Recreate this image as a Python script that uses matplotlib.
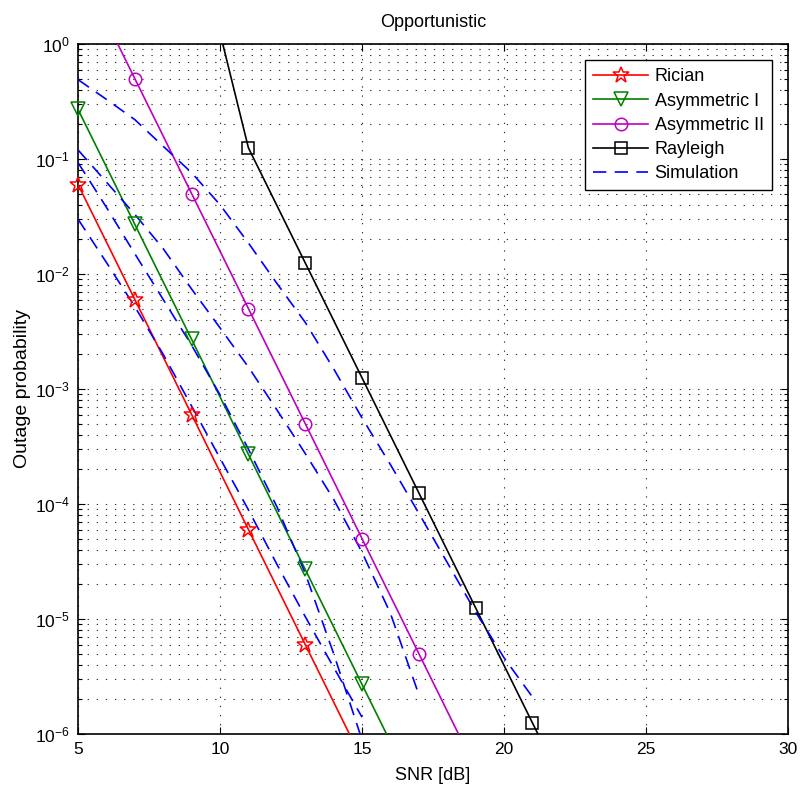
import numpy as np
import matplotlib
matplotlib.use('Agg')
import matplotlib.pyplot as plt
from matplotlib.lines import Line2D

plt.rcParams['font.family'] = ['Liberation Sans', 'DejaVu Sans']

# Analytische Kurven (Werte an ungeraden SNR-Punkten)
snr_rician = [5, 7, 9, 11, 13, 15, 17]
p_rician = [6e-2, 6e-3, 6e-4, 6e-5, 6e-6, 6e-7, 6e-8]

snr_asym1 = [5, 7, 9, 11, 13, 15, 17, 19]
p_asym1 = [2.7e-1, 2.7e-2, 2.7e-3, 2.7e-4, 2.7e-5, 2.7e-6, 2.7e-7, 2.7e-8]

snr_asym2 = [5, 7, 9, 11, 13, 15, 17, 19, 21]
p_asym2 = [5.0, 5e-1, 5e-2, 5e-3, 5e-4, 5e-5, 5e-6, 5e-7, 5e-8]

snr_rayl = [9, 11, 13, 15, 17, 19, 21, 23]
p_rayl = [12.5, 1.25e-1, 1.25e-2, 1.25e-3, 1.25e-4, 1.25e-5, 1.25e-6, 1.25e-7]

# Simulation (1 dB Schritte)
sim_x_rician = list(range(5, 16))
sim_rician = [0.030, 0.0126, 0.0052, 0.0020, 7.1e-4, 2.5e-4, 8.9e-5, 3.0e-5,
              1.05e-5, 3.8e-6, 1.4e-6]

sim_x_asym1 = list(range(5, 16))
sim_asym1 = [0.093, 0.038, 0.015, 0.006, 0.0024, 8.9e-4, 3.0e-4, 9.5e-5,
             2.5e-5, 5.0e-6, 8.9e-7]

sim_x_asym2 = list(range(5, 18))
sim_asym2 = [0.12, 0.063, 0.033, 0.0166, 0.0074, 0.0034, 1.55e-3, 6.6e-4,
             2.75e-4, 1.1e-4, 3.8e-5, 1.12e-5, 2.2e-6]

sim_x_rayl = list(range(5, 22))
sim_rayl = [0.49, 0.33, 0.22, 0.129, 0.076, 0.040, 0.0186, 0.0083, 0.0038,
            0.0015, 5.6e-4, 2.2e-4, 8.3e-5, 3.1e-5, 1.15e-5, 4.6e-6, 2.1e-6]

ymin, ymax = 1e-6, 1.0

fig = plt.figure(figsize=(8.01, 7.90), dpi=100)
ax = fig.add_axes([0.0974, 0.0709, 0.8864, 0.8734])
ax.set_yscale('log')

kurven = [
    (snr_rician, p_rician, 'r', '*', 12, 'Rician'),
    (snr_asym1, p_asym1, 'g', 'v', 10, 'Asymmetric I'),
    (snr_asym2, p_asym2, 'm', 'o', 9, 'Asymmetric II'),
    (snr_rayl, p_rayl, 'k', 's', 8, 'Rayleigh'),
]
col = {'g': '#008000', 'm': '#bf00bf', 'r': '#ff0000', 'k': '#000000'}

handles = []
for x, y, c, m, ms, name in kurven:
    x = np.array(x)
    y = np.array(y)
    ax.plot(x, y, color=col[c], lw=1.2, zorder=3)
    sel = (y >= ymin) & (y <= ymax)
    ax.plot(x[sel], y[sel], linestyle='none', marker=m, ms=ms,
            markerfacecolor='none', markeredgecolor=col[c], mew=1.1,
            clip_on=False, zorder=4)
    handles.append(Line2D([], [], color=col[c], lw=1.2, marker=m, ms=ms,
                          markerfacecolor='none', mew=1.1, label=name))

dash = (0, (8, 5))
for x, y in [(sim_x_rician, sim_rician), (sim_x_asym1, sim_asym1),
             (sim_x_asym2, sim_asym2), (sim_x_rayl, sim_rayl)]:
    ax.plot(x, y, color='#0000ff', lw=1.2, linestyle=dash, zorder=3)
handles.append(Line2D([], [], color='#0000ff', lw=1.2, linestyle=dash,
                      label='Simulation'))

ax.set_xlim(5, 30)
ax.set_ylim(ymin, ymax)
ax.set_xticks([5, 10, 15, 20, 25, 30])
ax.tick_params(which='both', direction='in', top=True, right=True,
               labelsize=12.5, width=0.8)
ax.tick_params(which='major', length=5, pad=6)
ax.tick_params(which='minor', length=3)
gitter = (0, (1.2, 7))
ax.grid(which='major', linestyle=gitter, color='0.2', lw=0.8)
ax.grid(which='minor', axis='y', linestyle=gitter, color='0.2', lw=0.8)
for s in ax.spines.values():
    s.set_linewidth(1.2)

ax.set_title('Opportunistic', fontsize=13, pad=12)
ax.set_xlabel('SNR [dB]', fontsize=13, labelpad=7)
ax.set_ylabel('Outage probability', fontsize=14, labelpad=3)

leg = ax.legend(handles=handles, loc='upper right', fontsize=13,
                fancybox=False, edgecolor='k', framealpha=1,
                handlelength=3.05, handletextpad=0.35, borderaxespad=0.9,
                labelspacing=0.4, borderpad=0.45)
leg.get_frame().set_linewidth(1.0)

fig.savefig('out.png', dpi=100)
